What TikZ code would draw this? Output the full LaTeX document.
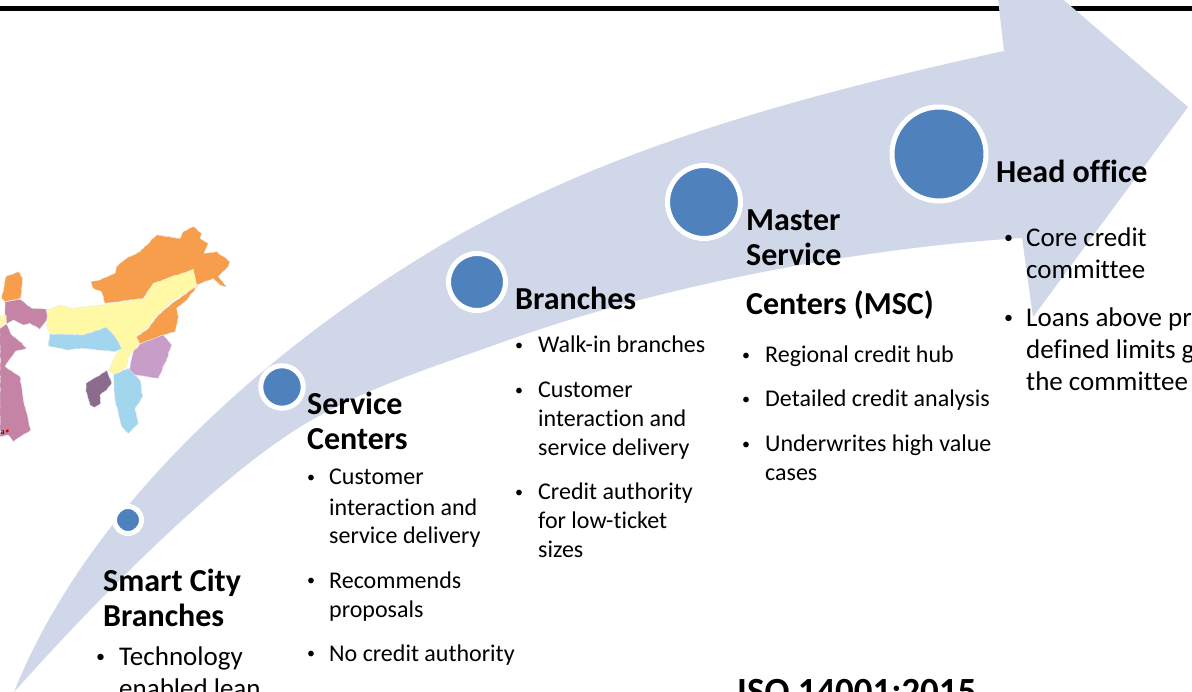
\documentclass[tikz,border=0pt]{standalone}
\usepackage{fontspec}
\setmainfont{Carlito}[RawFeature=-liga]
\usetikzlibrary{decorations.pathmorphing}
\definecolor{arrowfill}{HTML}{CFD7E8}
\definecolor{discblue}{HTML}{4F81BD}
\definecolor{morange}{HTML}{F79E4C}
\definecolor{myellow}{HTML}{FFF8A5}
\definecolor{mblue}{HTML}{A2D5EE}
\definecolor{mpurple}{HTML}{C89DC8}
\definecolor{mdark}{HTML}{8B6B8E}
\definecolor{mpink}{HTML}{C583A5}
\newcommand{\bulA}{\raisebox{2.6pt}{\fontsize{16}{16}\selectfont •}}
\newcommand{\bulB}{\raisebox{3pt}{\fontsize{18}{18}\selectfont •}}
\tikzset{
  disc/.style={fill=discblue,draw=white,line width=5pt,circle,inner sep=0pt},
  headtext/.style={anchor=base west,inner sep=0pt,font=\fontsize{32}{32}\selectfont\bfseries,text=black},
  bodytext/.style={anchor=base west,inner sep=0pt,font=\fontsize{24}{24}\selectfont,text=black},
  bodybig/.style={anchor=base west,inner sep=0pt,font=\fontsize{27}{27}\selectfont,text=black},
  region/.style={line width=0.3pt,draw=white!85!gray,decorate,decoration={random steps,segment length=2.5pt,amplitude=0.4pt}}
}
\begin{document}
\begin{tikzpicture}[x=1pt,y=-1pt]
\pgfmathsetseed{7}
\useasboundingbox (0,0) rectangle (1192,692);
\clip (0,0) rectangle (1192,692);
\fill[white] (0,0) rectangle (1192,692);
\fill[black] (0,6) rectangle (1192,11);
% map
\begin{scope}[shift={(0,220)},x=0.3333pt,y=-0.3333pt]
\filldraw[region,fill=morange] (272,185)--(300,180)--(345,160)--(350,140)--(380,115)--(420,95)--(470,45)--(540,55)--(550,35)--(580,20)--(605,40)--(600,55)--(625,70)--(612,100)--(650,95)--(690,125)--(685,140)--(655,170)--(680,200)--(660,195)--(640,175)--(590,195)--(580,150)--(500,180)--(460,190)--(430,235)--(315,250)--(305,215)--(280,205)--cycle;
\filldraw[region,fill=myellow] (140,270)--(180,255)--(215,265)--(300,255)--(430,237)--(460,190)--(580,148)--(590,200)--(520,240)--(470,285)--(440,325)--(410,350)--(420,370)--(385,410)--(380,440)--(345,465)--(325,450)--(350,400)--(365,385)--(345,350)--(320,322)--(250,345)--(150,340)--(140,320)--cycle;
\filldraw[region,fill=morange] (595,195)--(530,240)--(475,285)--(445,325)--(410,350)--(420,372)--(490,345)--(525,335)--(535,290)--(530,265)--(560,240)--cycle;
\filldraw[region,fill=mpurple] (420,372)--(490,345)--(515,375)--(495,430)--(475,475)--(385,462)--(400,395)--cycle;
\filldraw[region,fill=mblue] (150,342)--(250,345)--(320,322)--(345,350)--(365,385)--(345,395)--(250,385)--(200,390)--(145,378)--cycle;
\filldraw[region,fill=mblue] (340,465)--(385,445)--(420,480)--(428,530)--(405,565)--(415,610)--(385,640)--(365,620)--(345,540)--cycle;
\filldraw[region,fill=mdark] (258,490)--(300,465)--(320,450)--(335,490)--(320,510)--(300,525)--(302,550)--(285,562)--(270,555)--(258,515)--cycle;
\filldraw[region,fill=morange] (5,235)--(18,170)--(55,155)--(68,175)--(62,235)--(15,245)--cycle;
\filldraw[region,fill=mpink] (15,245)--(60,238)--(95,265)--(140,268)--(140,300)--(120,328)--(90,310)--(70,315)--(40,300)--(20,312)--(15,280)--cycle;
\filldraw[region,fill=myellow] (0,290)--(18,285)--(18,305)--(0,325)--cycle;
\filldraw[region,fill=mpink] (0,325)--(20,312)--(35,345)--(60,365)--(80,385)--(45,395)--(15,440)--(60,470)--(70,540)--(92,630)--(40,665)--(25,645)--(0,650)--cycle;
\fill[red!80!black] (22,633) circle (5);
\node[inner sep=0pt,anchor=base east,font=\fontsize{8}{8}\selectfont] (maplabel) at (15,643) {a};
\end{scope}
% sweep arrow
\fill[arrowfill] (14,692)
  .. controls (95,490) and (293,334) .. (433,250)
  .. controls (593,154) and (780,100) .. (1004,51)
  -- (997,-10) -- (1052,-10) -- (1188,107) -- (1033,317) -- (1022,238)
  .. controls (860,248) and (660,285) .. (500,343)
  .. controls (430,368) and (360,390) .. (300,427)
  .. controls (210,483) and (90,607) .. (14,692) -- cycle;
% discs
\node[disc,minimum size=27pt] (d1) at (128,520) {};
\node[disc,minimum size=42.5pt] (d2) at (282,387) {};
\node[disc,minimum size=57pt] (d3) at (477,282) {};
\node[disc,minimum size=73pt] (d4) at (704,202) {};
\node[disc,minimum size=94pt] (d5) at (939,154) {};
\begin{scope}[yshift=-1pt]
% smart city
\node[headtext] (h1a) at (103,590) {Smart City};
\node[headtext] (h1b) at (103,625) {Branches};
\node[bodybig] (b1a) at (96,664) {\bulB};
\node[bodybig] (t1a) at (119,664) {Technology};
\node[bodybig] (t1b) at (119,696) {enabled lean};
% service centers
\node[headtext] (h2a) at (307,414) {Service};
\node[headtext] (h2b) at (307,449) {Centers};
\node[bodytext] (b2a) at (307,484) {\bulA};
\node[bodytext] (t2a) at (329,484) {Customer};
\node[bodytext] (t2b) at (329,514) {interaction and};
\node[bodytext] (t2c) at (329,542) {service delivery};
\node[bodytext] (b2b) at (307,587) {\bulA};
\node[bodytext] (t2d) at (329,587) {Recommends};
\node[bodytext] (t2e) at (329,616) {proposals};
\node[bodytext] (b2c) at (307,660) {\bulA};
\node[bodytext] (t2f) at (329,660) {No credit authority};
% branches
\node[headtext] (h3) at (515,309) {Branches};
\node[bodytext] (b3a) at (515,352) {\bulA};
\node[bodytext] (t3a) at (538,352) {Walk-in branches};
\node[bodytext] (b3b) at (515,397) {\bulA};
\node[bodytext] (t3b) at (538,397) {Customer};
\node[bodytext] (t3c) at (538,426) {interaction and};
\node[bodytext] (t3d) at (538,455) {service delivery};
\node[bodytext] (b3c) at (515,499) {\bulA};
\node[bodytext] (t3e) at (538,499) {Credit authority};
\node[bodytext] (t3f) at (538,528) {for low-ticket};
\node[bodytext] (t3g) at (538,556) {sizes};
% msc
\node[headtext] (h4a) at (746,230) {Master};
\node[headtext] (h4b) at (746,265) {Service};
\node[headtext] (h4c) at (746,314) {Centers (MSC)};
\node[bodytext] (b4a) at (742,362) {\bulA};
\node[bodytext] (t4a) at (765,362) {Regional credit hub};
\node[bodytext] (b4b) at (742,406) {\bulA};
\node[bodytext] (t4b) at (765,406) {Detailed credit analysis};
\node[bodytext] (b4c) at (742,451) {\bulA};
\node[bodytext] (t4c) at (765,451) {Underwrites high value};
\node[bodytext] (t4d) at (765,480) {cases};
% head office
\node[headtext] (h5) at (996,182) {Head office};
\node[bodybig] (b5a) at (1004,246) {\bulB};
\node[bodybig] (t5a) at (1026,246) {Core credit};
\node[bodybig] (t5b) at (1026,278) {committee};
\node[bodybig] (b5b) at (1004,326) {\bulB};
\node[bodybig] (t5c) at (1026,326) {Loans above pre-};
\node[bodybig] (t5d) at (1026,358) {defined limits go};
\node[bodybig] (t5e) at (1026,390) {the committee};
% iso
\node[headtext,font=\fontsize{36.9}{36.9}\selectfont\bfseries] (iso) at (737,702) {ISO 14001:2015};
\end{scope}
\end{tikzpicture}
\end{document}
